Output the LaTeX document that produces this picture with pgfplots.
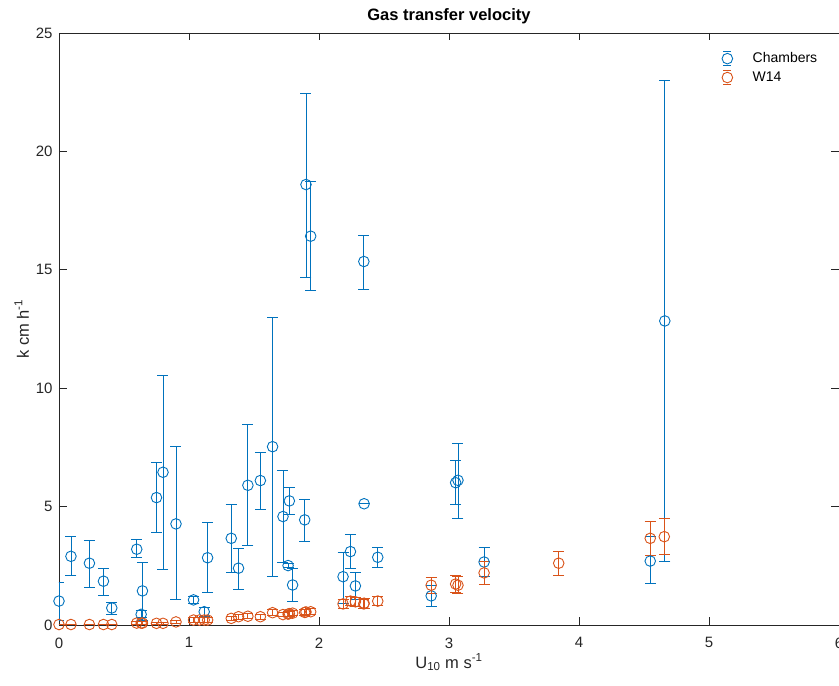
\documentclass[border=0pt]{standalone}
\usepackage{fontspec}
\setmainfont{Liberation Sans}
\usepackage{pgfplots}
\pgfplotsset{compat=1.18}
\usepackage{pgfplotstable}

\definecolor{mblue}{rgb}{0,0.447,0.741}
\definecolor{morange}{rgb}{0.85,0.325,0.098}
\definecolor{axgray}{rgb}{0.15,0.15,0.15}

% Chamber measurements: wind speed, k, upper and lower error
\pgfplotstableread{
x     y      ep     em
0.000 1.01   0.78   0.80
0.092 2.90   0.82   0.80
0.234 2.61   0.94   1.03
0.342 1.85   0.53   0.61
0.406 0.72   0.25   0.26
0.598 3.20   0.40   0.36
0.632 0.45   0.18   0.15
0.642 1.44   1.19   1.23
0.750 5.38   1.49   1.46
0.800 6.45   4.07   4.11
0.900 4.27   3.25   3.21
1.035 1.06   0.14   0.14
1.117 0.56   0.19   0.18
1.143 2.84   1.47   1.46
1.325 3.66   1.42   1.42
1.381 2.40   0.85   0.91
1.453 5.90   2.59   2.55
1.549 6.10   1.18   1.21
1.643 7.53   5.44   5.49
1.723 4.58   1.93   1.95
1.762 2.51   0.10   0.10
1.772 5.24   0.55   0.56
1.797 1.69   0.69   0.71
1.890 4.44   0.88   0.92
1.900 18.60  3.85   3.93
1.936 16.42  2.33   2.30
2.185 2.04   1.01   1.11
2.242 3.10   0.71   0.70
2.280 1.65   0.55   0.59
2.345 15.35  1.11   1.17
2.347 5.12   0.00   0.00
2.452 2.86   0.41   0.41
2.863 1.23   0.46   0.46
3.051 6.01   0.95   0.93
3.069 6.11   1.57   1.62
3.270 2.66   0.61   0.62
4.548 2.70   1.03   0.96
4.660 12.84  10.14  10.14
}\chambers

% W14 parameterisation at the same wind speeds
\pgfplotstableread{
x     y      ep     em
0.000 0.02   0.02   0.02
0.092 0.02   0.02   0.02
0.234 0.02   0.02   0.02
0.342 0.02   0.02   0.02
0.406 0.02   0.02   0.02
0.598 0.08   0.05   0.05
0.632 0.08   0.05   0.05
0.642 0.08   0.05   0.05
0.750 0.07   0.05   0.05
0.800 0.07   0.05   0.05
0.900 0.13   0.06   0.06
1.035 0.21   0.10   0.10
1.080 0.21   0.10   0.10
1.117 0.21   0.10   0.10
1.143 0.21   0.10   0.10
1.325 0.28   0.10   0.10
1.381 0.35   0.10   0.10
1.453 0.37   0.10   0.10
1.549 0.35   0.10   0.10
1.643 0.52   0.12   0.12
1.723 0.44   0.10   0.10
1.762 0.46   0.10   0.10
1.772 0.48   0.10   0.10
1.797 0.50   0.10   0.10
1.890 0.53   0.12   0.12
1.900 0.55   0.12   0.12
1.936 0.56   0.12   0.12
2.185 0.89   0.20   0.20
2.242 1.01   0.20   0.20
2.280 0.98   0.20   0.20
2.345 0.89   0.20   0.20
2.347 0.92   0.20   0.20
2.452 1.01   0.20   0.20
2.863 1.68   0.33   0.33
3.051 1.73   0.35   0.35
3.069 1.68   0.35   0.35
3.270 2.20   0.47   0.47
3.844 2.61   0.50   0.50
4.548 3.66   0.72   0.72
4.656 3.73   0.77   0.77
}\wfourteen

\begin{document}
\begin{tikzpicture}
\begin{axis}[
  at={(0,0)}, anchor=south west,
  scale only axis, width=780pt, height=592pt,
  xmin=0, xmax=6, ymin=0, ymax=25,
  xtick={0,1,...,6}, ytick={0,5,...,25},
  tick align=inside, major tick length=7.5pt,
  axis line style={axgray, line width=0.8pt},
  every tick/.style={axgray, line width=0.8pt},
  /pgf/number format/assume math mode=true,
  ticklabel style={font=\fontsize{15}{18}\selectfont, text=axgray},
  xticklabel style={yshift=-9pt},
  yticklabel style={xshift=-3pt},
  title={\textbf{Gas transfer velocity}},
  title style={font=\fontsize{16.5}{19}\selectfont, text=black},
  xlabel={U\textsubscript{10} m s\textsuperscript{-1}},
  ylabel={k cm h\textsuperscript{-1}},
  label style={font=\fontsize{16.5}{19}\selectfont, text=axgray},
  xlabel style={yshift=1pt},
  ylabel style={yshift=0pt},
  legend cell align=left,
  legend style={at={(0.846,0.973)}, anchor=north west, draw=none, fill=none,
    font=\fontsize{14}{16}\selectfont, row sep=4pt,
    nodes={inner sep=1pt},
    /tikz/every odd column/.append style={column sep=19pt}},
  legend image code/.code={
    \draw[#1, mark=none, solid] (-4pt,7pt) -- (4pt,7pt) (-4pt,-7pt) -- (4pt,-7pt);
    \draw[#1, only marks] plot coordinates {(0pt,0pt)};
  },
]
\addplot[only marks, mark=o, mblue, mark size=5.3pt, line width=0.9pt,
  error bars/.cd, y dir=both, y explicit,
  error mark=-, error mark options={mblue, rotate=90, mark size=5.5pt, line width=0.9pt},
  error bar style={mblue, line width=0.9pt}]
  table[x=x, y=y, y error plus=ep, y error minus=em] {\chambers};
\addlegendentry{Chambers}
\addplot[only marks, mark=o, morange, mark size=5.3pt, line width=0.9pt,
  error bars/.cd, y dir=both, y explicit,
  error mark=-, error mark options={morange, rotate=90, mark size=5.5pt, line width=0.9pt},
  error bar style={morange, line width=0.9pt}]
  table[x=x, y=y, y error plus=ep, y error minus=em] {\wfourteen};
\addlegendentry{W14}
\end{axis}
\pgfresetboundingbox
\path (-59pt,-61pt) rectangle (780pt,625pt);
\end{tikzpicture}
\end{document}
